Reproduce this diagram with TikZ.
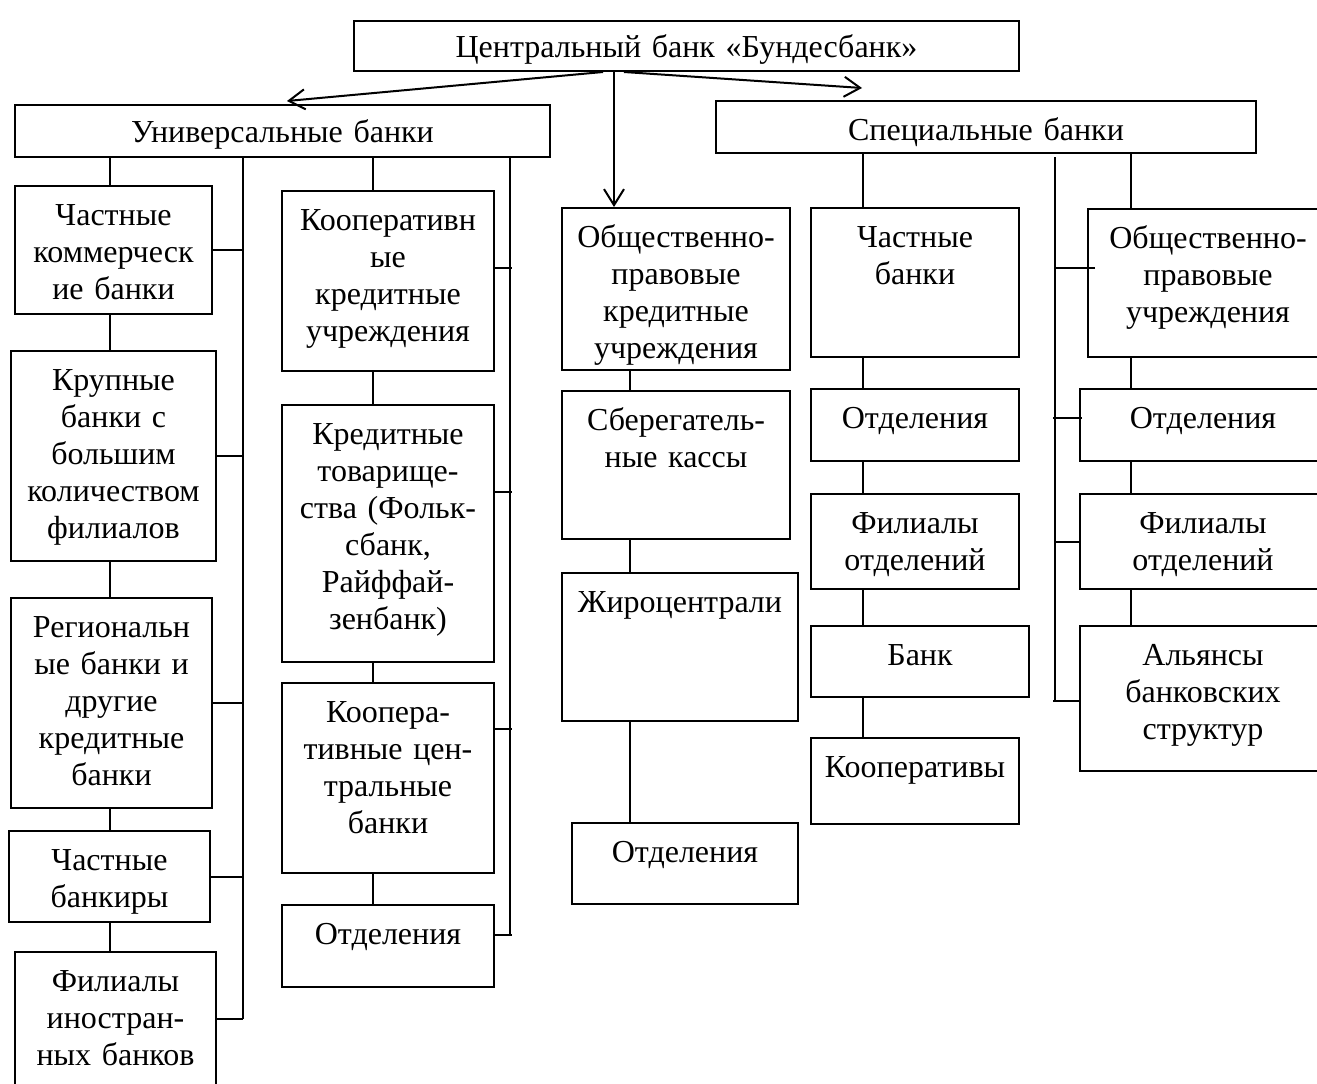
\documentclass[tikz,border=0pt]{standalone}
\usepackage{fontspec}
\setmainfont{Liberation Serif}
\usetikzlibrary{arrows.meta}

\begin{document}
\begin{tikzpicture}[x=1pt,y=-1pt,line width=2pt,font=\fontsize{32}{37}\selectfont,
  >={Straight Barb[length=16pt,width=20pt]},
  blk/.style={draw,inner sep=0pt,align=center,anchor=north west,text height=39pt}]
\useasboundingbox (0,0) rectangle (1317,1084);
\coordinate (c1) at (110,0);
\coordinate (c2) at (373,0);
\coordinate (c3) at (630,0);
\coordinate (c4) at (863,0);
\coordinate (c5) at (1131,0);
\coordinate (ca) at (614,0);
\coordinate (lx) at (603,0);
\coordinate (rx) at (624,0);
\coordinate (ua) at (287,101);
\coordinate (sa) at (862,88);
\coordinate (b1) at (243,0);
\coordinate (b2) at (510,934);
\coordinate (b5t) at (1055,157);
\coordinate (b5) at (1055,700);
\node[blk,text width=665pt,text height=36pt,text depth=14pt] (cb) at (353,20) {Центральный банк «Бундесбанк»};
\node[blk,text width=535pt,text height=37pt,text depth=15pt] (ub) at (14,104) {Универсальные банки};
\node[blk,text width=540pt,text depth=13pt] (sb) at (715,100) {Специальные банки};
\draw[->] (cb.south -| lx) -- (ua);
\draw[->] (cb.south -| rx) -- (sa);
\node[blk,text width=197pt,text depth=89pt] (pk) at (14,185) {Частные\\коммерческ\\ие банки};
\node[blk,text width=205pt,text depth=171pt] (kb) at (10,350) {Крупные\\банки с\\большим\\количеством\\филиалов};
\node[blk,text width=201pt,text depth=171pt] (rb) at (10,597) {Региональн\\ые банки и\\другие\\кредитные\\банки};
\node[blk,text width=201pt,text depth=52pt] (cbk) at (8,830) {Частные\\банкиры};
\node[blk,text width=201pt,text depth=95pt] (fi) at (14,951) {Филиалы\\иностран-\\ных банков};
\draw (ub.south -| c1) -- (pk.north -| c1);
\draw (pk.south -| c1) -- (kb.north -| c1);
\draw (kb.south -| c1) -- (rb.north -| c1);
\draw (rb.south -| c1) -- (cbk.north -| c1);
\draw (cbk.south -| c1) -- (fi.north -| c1);
\draw (ub.south -| b1) -- (fi.east -| b1);
\draw (pk.east) -- (pk.east -| b1);
\draw (kb.east) -- (kb.east -| b1);
\draw (rb.east) -- (rb.east -| b1);
\draw (cbk.east) -- (cbk.east -| b1);
\draw (fi.east) -- (fi.east -| b1);
\node[blk,text width=212pt,text depth=141pt] (kku) at (281,190) {Кооперативн\\ые\\кредитные\\учреждения};
\node[blk,text width=212pt,text depth=218pt] (kt) at (281,404) {Кредитные\\товарище-\\ства (Фольк-\\сбанк,\\Райффай-\\зенбанк)};
\node[blk,text width=212pt,text depth=151pt] (kcb) at (281,682) {Коопера-\\тивные цен-\\тральные\\банки};
\node[blk,text width=212pt,text depth=43pt] (ot2) at (281,904) {Отделения};
\draw (ub.south -| c2) -- (kku.north -| c2);
\draw (kku.south -| c2) -- (kt.north -| c2);
\draw (kt.south -| c2) -- (kcb.north -| c2);
\draw (kcb.south -| c2) -- (ot2.north -| c2);
\draw (ub.south -| b2) -- (b2);
\draw ([yshift=13pt]kku.east) -- ++(17,0);
\draw ([yshift=42pt]kt.east) -- ++(17,0);
\draw ([yshift=49pt]kcb.east) -- ++(17,0);
\draw ([yshift=11pt]ot2.east) -- ++(17,0);
\node[blk,text width=228pt,text depth=123pt] (opk) at (561,207) {Общественно-\\правовые\\кредитные\\учреждения};
\node[blk,text width=228pt,text depth=109pt] (sk) at (561,390) {Сберегатель-\\ные кассы};
\node[blk,text width=236pt,text depth=109pt] (zh) at (561,572) {Жироцентрали};
\node[blk,text width=226pt,text depth=42pt] (ot3) at (571,822) {Отделения};
\draw[->] (cb.south -| ca) -- (opk.north -| ca);
\draw (opk.south -| c3) -- (sk.north -| c3);
\draw (sk.south -| c3) -- (zh.north -| c3);
\draw (zh.south -| c3) -- (ot3.north -| c3);
\node[blk,text width=208pt,text depth=110pt] (chb) at (810,207) {Частные\\банки};
\node[blk,text width=208pt,text depth=33pt] (ot4) at (810,388) {Отделения};
\node[blk,text width=208pt,text depth=56pt] (fo4) at (810,493) {Филиалы\\отделений};
\node[blk,text width=218pt,text depth=32pt] (bk) at (810,625) {Банк};
\node[blk,text width=208pt,text depth=47pt] (kp) at (810,737) {Кооперативы};
\draw (sb.south -| c4) -- (chb.north -| c4);
\draw (chb.south -| c4) -- (ot4.north -| c4);
\draw (ot4.south -| c4) -- (fo4.north -| c4);
\draw (fo4.south -| c4) -- (bk.north -| c4);
\draw (bk.south -| c4) -- (kp.north -| c4);
\node[blk,text width=240pt,text depth=109pt] (opu) at (1087,208) {Общественно-\\правовые\\учреждения};
\node[blk,text width=246pt,text depth=33pt] (ot5) at (1079,388) {Отделения};
\node[blk,text width=246pt,text depth=56pt] (fo5) at (1079,493) {Филиалы\\отделений};
\node[blk,text width=246pt,text depth=106pt] (al) at (1079,625) {Альянсы\\банковских\\структур};
\draw (sb.south -| c5) -- (opu.north -| c5);
\draw (opu.south -| c5) -- (ot5.north -| c5);
\draw (ot5.south -| c5) -- (fo5.north -| c5);
\draw (fo5.south -| c5) -- (al.north -| c5);
\draw (b5t) -- (b5);
\draw ([xshift=8pt,yshift=15pt]opu.west) -- ++(-40,0);
\draw ([xshift=3pt,yshift=7pt]ot5.west) -- ++(-29,0);
\draw (fo5.west) -- ++(-24,0);
\draw ([yshift=-2pt]al.west) -- ++(-26,0);
\end{tikzpicture}
\end{document}
